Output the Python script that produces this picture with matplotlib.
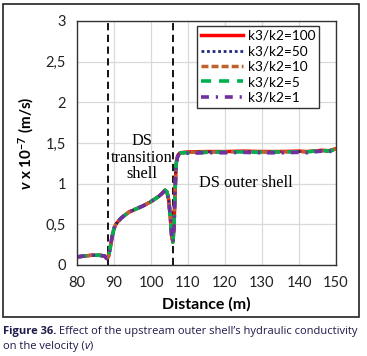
import matplotlib
matplotlib.use('Agg')
import matplotlib.pyplot as plt
from matplotlib.patches import Rectangle

plt.rcParams['font.family'] = ['Lato', 'DejaVu Sans']
plt.rcParams['mathtext.fontset'] = 'custom'
plt.rcParams['mathtext.rm'] = 'Lato'
plt.rcParams['mathtext.bf'] = 'Lato:bold'
plt.rcParams['mathtext.it'] = 'Lato:italic'
plt.rcParams['mathtext.bfit'] = 'Lato:bold:italic'

# distance along the section (m)
distance = [80, 82, 84, 86, 87.5, 88, 88.5, 89, 89.5, 90, 90.5, 91, 92, 94, 96, 98,
            100, 102, 103, 103.8, 104.3, 104.8, 105.2, 105.6, 105.9, 106.2, 106.5,
            106.8, 107.2, 107.6, 108, 110, 115, 120, 125, 130, 135, 140, 142, 144,
            146, 148, 150]

# velocity x 1e-7 (m/s) for each k3/k2 ratio
v_k100 = [0.10, 0.11, 0.12, 0.12, 0.11, 0.08, 0.10, 0.22, 0.35, 0.45, 0.50, 0.53, 0.58,
          0.65, 0.69, 0.73, 0.78, 0.84, 0.88, 0.92, 0.90, 0.80, 0.60, 0.35, 0.28, 0.45,
          0.90, 1.25, 1.34, 1.37, 1.38, 1.39, 1.395, 1.395, 1.40, 1.395, 1.395, 1.40,
          1.395, 1.40, 1.41, 1.405, 1.43]
v_k50 = [0.10, 0.11, 0.12, 0.12, 0.11, 0.08, 0.10, 0.22, 0.35, 0.45, 0.50, 0.53, 0.58,
         0.65, 0.69, 0.73, 0.78, 0.84, 0.88, 0.92, 0.90, 0.80, 0.60, 0.35, 0.28, 0.45,
         0.90, 1.25, 1.34, 1.37, 1.38, 1.385, 1.39, 1.39, 1.395, 1.39, 1.39, 1.395,
         1.39, 1.40, 1.41, 1.40, 1.43]
v_k10 = [0.10, 0.11, 0.12, 0.12, 0.11, 0.08, 0.10, 0.22, 0.35, 0.45, 0.50, 0.53, 0.58,
         0.65, 0.69, 0.73, 0.78, 0.84, 0.88, 0.92, 0.90, 0.80, 0.60, 0.35, 0.28, 0.45,
         0.90, 1.25, 1.34, 1.37, 1.38, 1.385, 1.39, 1.39, 1.395, 1.39, 1.39, 1.395,
         1.39, 1.40, 1.41, 1.40, 1.43]
v_k5 = [0.10, 0.11, 0.12, 0.12, 0.11, 0.08, 0.10, 0.22, 0.35, 0.45, 0.50, 0.53, 0.58,
        0.65, 0.69, 0.73, 0.78, 0.84, 0.88, 0.92, 0.90, 0.80, 0.60, 0.35, 0.28, 0.45,
        0.90, 1.25, 1.34, 1.37, 1.38, 1.38, 1.385, 1.39, 1.39, 1.385, 1.39, 1.39,
        1.39, 1.40, 1.41, 1.40, 1.42]
v_k1 = [0.10, 0.11, 0.12, 0.12, 0.11, 0.08, 0.10, 0.22, 0.35, 0.45, 0.50, 0.53, 0.58,
        0.65, 0.69, 0.73, 0.78, 0.84, 0.88, 0.92, 0.90, 0.80, 0.60, 0.35, 0.28, 0.45,
        0.90, 1.25, 1.33, 1.36, 1.37, 1.375, 1.38, 1.38, 1.385, 1.38, 1.38, 1.385,
        1.38, 1.39, 1.40, 1.39, 1.42]

labels = ['k3/k2=100', 'k3/k2=50', 'k3/k2=10', 'k3/k2=5', 'k3/k2=1']
zone_bounds = [88.3, 106.0]
x_ticks = [80, 90, 100, 110, 120, 130, 140, 150]
y_ticks = [0, 0.5, 1, 1.5, 2, 2.5, 3]
y_tick_labels = ['0', '0,5', '1', '1,5', '2', '2,5', '3']

fig = plt.figure(figsize=(3.67, 3.56), dpi=100)
fig.patches.append(Rectangle((3 / 367, 39 / 356), 356 / 367, 313 / 356,
                             transform=fig.transFigure, fill=False,
                             edgecolor='#222222', linewidth=1.2))
ax = fig.add_axes([77 / 367, 91 / 356, 259 / 367, 244 / 356])

ax.plot(distance, v_k100, color='#ff0000', lw=2.5, label=labels[0])
ax.plot(distance, v_k50, color='#1f2a7a', lw=2, ls=(0, (1, 1)), label=labels[1])
ax.plot(distance, v_k10, color='#c0602a', lw=2.5, ls=(0, (2, 0.9)), label=labels[2])
ax.plot(distance, v_k5, color='#00b050', lw=2.6, ls=(0, (2.8, 2.2)), label=labels[3])
ax.plot(distance, v_k1, color='#7030a0', lw=2.6, ls=(0, (2.2, 1.9, 0.6, 1.9)), label=labels[4])

for xb in zone_bounds:
    ax.axvline(xb, color='black', lw=1.3, ls=(0, (4, 2.5)), zorder=1)

ax.set_xlim(80, 150)
ax.set_ylim(0, 3)
ax.set_xticks(x_ticks)
ax.set_yticks(y_ticks)
ax.set_yticklabels(y_tick_labels)
ax.tick_params(length=0, labelsize=10.5, pad=8, colors='#222222')
ax.grid(True, color='#d9d9d9', lw=0.9)
ax.set_axisbelow(True)
for s in ax.spines.values():
    s.set_color('#333333')
    s.set_linewidth(1)

ax.set_xlabel('Distance (m)', fontsize=11.5, fontweight='bold', labelpad=5)
ax.set_ylabel(r'$\mathbfit{v}$ x 10$^{\mathbf{-7}}$ (m/s)', fontsize=11,
              fontweight='bold', labelpad=7)

serif = dict(family='Liberation Serif', fontsize=11.8, ha='center', va='baseline')
ax.text(97.5, 1.475, 'DS', **serif)
ax.text(97.5, 1.27, 'transition', **serif)
ax.text(97.5, 1.065, 'shell', **serif)
ax.text(125.7, 0.96, 'DS outer shell', **serif)

leg = ax.legend(loc='upper right', bbox_to_anchor=(0.936, 0.98), fontsize=9.8,
                frameon=True, fancybox=False, framealpha=1, edgecolor='#333333',
                handlelength=3.1, handletextpad=0.37, labelspacing=0.25,
                borderpad=0.3, borderaxespad=0)
leg.get_frame().set_linewidth(1)

# caption: bold lead-in followed by regular text
cap_color = '#1e1a4a'
cap = dict(fontsize=8.05, color=cap_color, family='Open Sans', va='baseline')
renderer = fig.canvas.get_renderer()
inv = fig.transFigure.inverted()


def caption_parts(y, parts):
    x = 3 / 367
    for txt, kw in parts:
        t = fig.text(x, y, txt, **cap, **kw)
        bb = t.get_window_extent(renderer)
        x = inv.transform((bb.x1, bb.y0))[0]


caption_parts(1 - 334 / 356, [('Figure 36.', dict(fontweight='bold')),
                              (' Effect of the upstream outer shell’s hydraulic conductivity', {})])
caption_parts(1 - 349 / 356, [('on the velocity (', {}), ('v', dict(style='italic')), (')', {})])

fig.savefig('out.png', dpi=100)
